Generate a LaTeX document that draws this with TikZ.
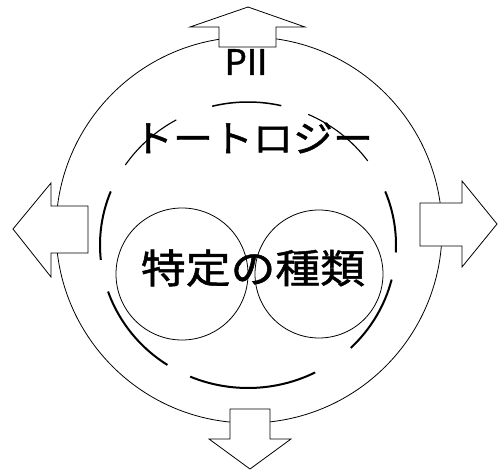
\documentclass[tikz,border=0pt]{standalone}
\usepackage{fontspec}
\setmainfont{Noto Sans CJK JP}
\newfontfamily\heavyjp{Noto Sans CJK JP}[FakeBold=1.2]
\usetikzlibrary{positioning}
\tikzstyle{ring}  =[draw, circle, line width=0.8pt, inner sep=0pt, outer sep=0pt]
\tikzstyle{fat}   =[draw, line width=0.8pt, line join=miter, fill=white]
\tikzstyle{label} =[inner sep=0pt, outer sep=0pt, transform shape]

\begin{document}
\begin{tikzpicture}[x=1pt, y=1pt]
\useasboundingbox (0,0) rectangle (498,471);
% outer circle and arrows
\node (outer) [ring, minimum size=386pt] at (249,241) {};
\draw [fat] (248,464) -- (305,444) -- (276,444) -- (276,424) -- (219,424)
            -- (219,444) -- (190,444) -- cycle;
\draw [fat] (13,242) -- (51,288) -- (51,265) -- (88,265) -- (88,218)
            -- (51,218) -- (51,194) -- cycle;
\draw [fat] (497,247) -- (462,290) -- (462,268) -- (420,268) -- (420,225)
            -- (462,225) -- (462,204) -- cycle;
\draw [fat] (250,2) -- (291,32) -- (270,32) -- (270,62) -- (230,62)
            -- (230,32) -- (209,32) -- cycle;
% broken inner ring
\coordinate (mid) at (248,226);
\foreach \a/\b/\w in {77/104/1.5, 119/146/1.1, 36/66/1.1, -3/22/2,
                      -46/-14/2, -113/-63/2, -161/-123/2, 158/186/2} {
  \draw [line width=\w pt] (mid) ++(\a:148 and 143)
        arc [start angle=\a, end angle=\b, x radius=148, y radius=143];
}
\node (left)  [ring, minimum size=132pt] at (182,197) {};
\node (right) [ring, minimum size=128pt] at (319,197) {};
% texts
\node (pii)   [label, font=\heavyjp\fontsize{35}{35}\selectfont] at (246,409) {PII};
\node (taut)  [label, xscale=1.08, font=\heavyjp\fontsize{37}{37}\selectfont] at (253,333) {トートロジー};
\node (kinds) [label, xscale=1.12, font=\heavyjp\fontsize{40}{40}\selectfont] at (253,203) {特定の種類};
\end{tikzpicture}
\end{document}
